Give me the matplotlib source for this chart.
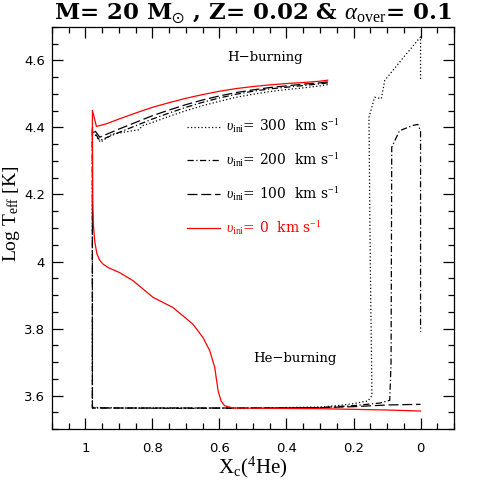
import matplotlib
matplotlib.use("Agg")
import matplotlib.pyplot as plt
from matplotlib.lines import Line2D
from matplotlib.ticker import MultipleLocator, FormatStrFormatter

plt.rcParams['mathtext.fontset'] = 'custom'
plt.rcParams['mathtext.rm'] = 'Liberation Serif'
plt.rcParams['mathtext.it'] = 'Liberation Serif:italic'
plt.rcParams['mathtext.bf'] = 'Liberation Serif:bold'
plt.rcParams['mathtext.fallback'] = 'stix'

# ---- data: (Xc(4He), log Teff) along each track ----
# v_ini = 0 km/s (red)
x_v0 = [0.277, 0.30, 0.35, 0.40, 0.45, 0.50, 0.55, 0.60, 0.65, 0.70, 0.75, 0.80, 0.85, 0.90, 0.94, 0.967,
        0.979, 0.979, 0.978, 0.976, 0.972, 0.966, 0.958, 0.947, 0.930, 0.898, 0.858, 0.798, 0.739, 0.679,
        0.649, 0.629, 0.614, 0.604, 0.595, 0.585, 0.560, 0.45, 0.30, 0.20, 0.10, 0.0]
y_v0 = [4.541, 4.538, 4.534, 4.531, 4.527, 4.522, 4.516, 4.508, 4.498, 4.487, 4.474, 4.460, 4.443, 4.425, 4.410, 4.403,
        4.451, 4.36, 4.181, 4.110, 4.060, 4.025, 4.005, 3.992, 3.981, 3.967, 3.943, 3.893, 3.863, 3.813,
        3.773, 3.734, 3.684, 3.614, 3.584, 3.570, 3.563, 3.562, 3.561, 3.559, 3.557, 3.554]

# v_ini = 100 km/s (dashed)
x_v100 = [0.277, 0.30, 0.35, 0.40, 0.45, 0.50, 0.55, 0.60, 0.65, 0.70, 0.75, 0.80, 0.85, 0.90, 0.957,
          0.979, 0.979, 0.90, 0.70, 0.50, 0.30, 0.20, 0.10, 0.0]
y_v100 = [4.536, 4.533, 4.529, 4.524, 4.519, 4.512, 4.504, 4.494, 4.482, 4.468, 4.452, 4.435, 4.415, 4.395, 4.371,
          4.400, 3.563, 3.563, 3.563, 3.563, 3.564, 3.567, 3.572, 3.574]

# v_ini = 200 km/s (dash-dot)
x_v200 = [0.277, 0.30, 0.35, 0.40, 0.45, 0.50, 0.55, 0.60, 0.65, 0.70, 0.75, 0.80, 0.85, 0.90, 0.957,
          0.979, 0.979, 0.90, 0.70, 0.50, 0.30, 0.20, 0.12, 0.092, 0.088, 0.086, 0.063, 0.023, 0.008, 0.0, 0.0]
y_v200 = [4.533, 4.530, 4.525, 4.520, 4.515, 4.508, 4.499, 4.488, 4.475, 4.460, 4.443, 4.425, 4.405, 4.385, 4.361,
          4.395, 3.563, 3.563, 3.562, 3.563, 3.564, 3.570, 3.578, 3.586, 3.700, 4.341, 4.390, 4.406, 4.409, 4.390, 3.790]

# v_ini = 300 km/s (dotted)
x_v300 = [0.277, 0.30, 0.35, 0.40, 0.45, 0.50, 0.55, 0.60, 0.65, 0.70, 0.75, 0.80, 0.83, 0.84, 0.86, 0.92, 0.955,
          0.979, 0.979, 0.90, 0.70, 0.50, 0.30, 0.25, 0.20, 0.157, 0.145, 0.150, 0.154, 0.137, 0.117, 0.107,
          0.05, 0.0, 0.0]
y_v300 = [4.528, 4.524, 4.518, 4.513, 4.507, 4.499, 4.490, 4.478, 4.465, 4.450, 4.433, 4.415, 4.405, 4.393, 4.390, 4.380, 4.356,
          4.390, 3.565, 3.563, 3.563, 3.563, 3.566, 3.570, 3.576, 3.584, 3.600, 4.000, 4.430, 4.490, 4.486, 4.540,
          4.610, 4.670, 4.540]

legend_labels = [r"$\upsilon_{\rm ini}$= 300  km s$^{-1}$",
                 r"$\upsilon_{\rm ini}$= 200  km s$^{-1}$",
                 r"$\upsilon_{\rm ini}$= 100  km s$^{-1}$",
                 r"$\upsilon_{\rm ini}$= 0  km s$^{-1}$"]

fig = plt.figure(figsize=(4.8, 4.8), dpi=100)
ax = fig.add_axes([0.108, 0.106, 0.838, 0.838])

red = '#ff0000'
ls_dot = (0, (1, 1.8))
ls_dd = (0, (5, 2, 1, 2))
ls_dash = (0, (8, 3))
ax.plot(x_v300, y_v300, color='black', lw=0.9, linestyle=ls_dot)
ax.plot(x_v200, y_v200, color='black', lw=0.9, linestyle=ls_dd)
ax.plot(x_v100, y_v100, color='black', lw=0.9, linestyle=ls_dash)
ax.plot(x_v0, y_v0, color=red, lw=0.9)

ax.set_xlim(1.1, -0.1)
ax.set_ylim(3.5, 4.7)

ax.xaxis.set_major_locator(MultipleLocator(0.2))
ax.xaxis.set_minor_locator(MultipleLocator(0.05))
ax.yaxis.set_major_locator(MultipleLocator(0.2))
ax.yaxis.set_minor_locator(MultipleLocator(0.05))
ax.xaxis.set_major_formatter(FormatStrFormatter('%g'))
ax.yaxis.set_major_formatter(FormatStrFormatter('%g'))
ax.tick_params(which='both', direction='in', top=True, right=True, width=0.9)
ax.tick_params(which='major', length=8, labelsize=9.5)
ax.tick_params(axis='x', which='major', pad=9)
ax.tick_params(axis='y', which='major', pad=5)
ax.tick_params(which='minor', length=4)
for s in ax.spines.values():
    s.set_linewidth(0.9)

ax.set_xlabel(r"X$_{\rm c}$($^{4}$He)", fontsize=15, family='Liberation Serif')
ax.xaxis.set_label_coords(0.5, -0.063)
ax.set_ylabel(r"Log T$_{\rm eff}$ [K]", fontsize=14, family='Liberation Serif')
ax.yaxis.set_label_coords(-0.075, 0.535)
ax.set_title(r"M= 20 M$_{\odot}$ , Z= 0.02 & $\alpha_{\rm over}$= 0.1", fontsize=16.5,
             fontweight='bold', family='DejaVu Serif', pad=5)

ax.text(0.465, 4.61, "H\u2212burning", ha='center', va='center', fontsize=9.5, family='DejaVu Serif')
ax.text(0.375, 3.71, "He\u2212burning", ha='center', va='center', fontsize=9.5, family='DejaVu Serif')

handles = [Line2D([], [], color='black', lw=0.9, linestyle=ls_dot),
           Line2D([], [], color='black', lw=0.9, linestyle=ls_dd),
           Line2D([], [], color='black', lw=0.9, linestyle=ls_dash),
           Line2D([], [], color=red, lw=0.9)]
leg = ax.legend(handles, legend_labels, loc='upper left', bbox_to_anchor=(0.735, 4.467),
                bbox_transform=ax.transData, frameon=False,
                handlelength=2.4, handletextpad=0.4, labelspacing=1.15,
                prop={'family': 'DejaVu Serif', 'size': 10})
leg.get_texts()[3].set_color(red)

fig.savefig("out.png", dpi=100)
